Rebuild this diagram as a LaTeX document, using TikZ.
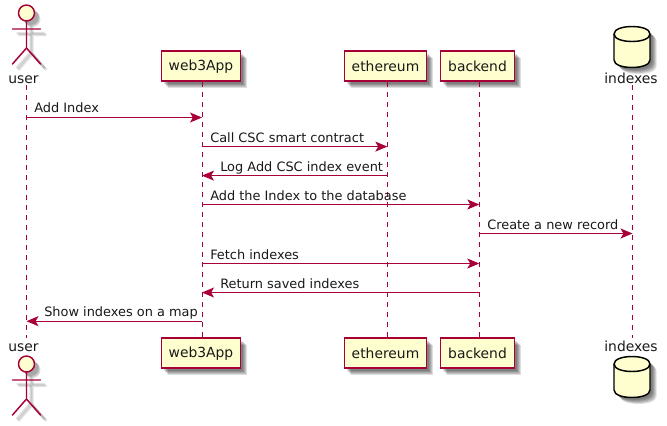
\documentclass[tikz,border=0pt]{standalone}
\usepackage{fontspec}
\setmainfont{DejaVu Sans}
\usetikzlibrary{arrows.meta}
\definecolor{pubord}{HTML}{A80036}
\definecolor{pufill}{HTML}{FEFECE}
\tikzset{
  x=0.75pt,y=-0.75pt,
  txt/.style={font=\fontsize{10.4pt}{12pt}\selectfont,text=black!90},
  part/.style={txt,draw=pubord,fill=pufill,line width=1.1pt,minimum height=22.5pt,inner xsep=0pt,inner ysep=0pt},
  lbl/.style={txt,inner sep=0pt,anchor=base},
  msglbl/.style={font=\fontsize{9.68pt}{12pt}\selectfont,text=black!90,inner sep=0pt,anchor=base west},
  msg/.style={draw=pubord,line width=0.75pt,-{Stealth[length=9pt,width=7.5pt,inset=2.2pt,fill=pubord]}},
  lifeline/.style={draw=pubord,line width=0.75pt,dash pattern=on 3.75pt off 3.75pt},
  shad/.style={draw=none,fill=black,opacity=0.13},
  shadl/.style={draw=black,opacity=0.10,line width=1.8pt},
}
\newcommand{\boxshadow}[4]{% x1 y1 x2 y2
  \foreach \o in {2.5,3.5,4.5,5.5,6.5}{\fill[shad] (#1+\o,#2+\o) rectangle (#3+\o,#4+\o);}}
\newcommand{\actorlines}[3]{% x, y, style
  \draw[#3] (#1,#2+8) -- (#1,#2+35) (#1-14,#2+16) -- (#1+14,#2+16)
     (#1-14,#2+51) -- (#1,#2+35) -- (#1+14,#2+51);}
\newcommand{\actorshape}[2]{% x, head centre y
  \foreach \o in {4,5,6}{
    \fill[shad] (#1+\o,#2+\o) circle (8);
    \actorlines{#1+\o}{#2+\o}{shadl}}
  \actorlines{#1}{#2}{draw=pubord,line width=1.1pt,line cap=round}
  \draw[draw=pubord,fill=pufill,line width=1.1pt] (#1,#2) circle (8);}
\newcommand{\cylpath}[2]{(#1-18,#2+10) .. controls (#1-18,#2) and (#1+18,#2) .. (#1+18,#2+10)
   -- (#1+18,#2+36) .. controls (#1+18,#2+46) and (#1-18,#2+46) .. (#1-18,#2+36) -- cycle}
\newcommand{\cylshape}[2]{% x, top y
  \foreach \o in {2.5,3.5,4.5,5.5,6.5}{\fill[shad] \cylpath{#1+\o}{#2+\o};}
  \draw[black,fill=pufill,line width=1.1pt,line join=round] \cylpath{#1}{#2};
  \draw[black,line width=1.1pt] (#1-18,#2+10) .. controls (#1-18,#2+20) and (#1+18,#2+20) .. (#1+18,#2+10);}
\begin{document}
\begin{tikzpicture}
\useasboundingbox (0,0) rectangle (667,425);
% shadows of boxes
\boxshadow{161.5}{51.5}{240.5}{81}
\boxshadow{344.5}{51.5}{426.5}{81}
\boxshadow{440.5}{51.5}{514.5}{81}
\boxshadow{161.5}{338.5}{240.5}{368}
\boxshadow{344.5}{338.5}{426.5}{368}
\boxshadow{440.5}{338.5}{514.5}{368}
% lifeline anchors
\coordinate (userT) at (26.5,85);
\coordinate (userB) at (26.5,338);
\coordinate (idxT) at (632.5,85);
\coordinate (idxB) at (632.5,338);
% participants
\node[part,minimum width=59.25pt] (webT) at (201,66.2) {web3App};
\node[part,minimum width=61.8pt] (ethT) at (385.5,66.2) {ethereum};
\node[part,minimum width=55.5pt] (bckT) at (477.5,66.2) {backend};
\node[part,minimum width=59.25pt] (webB) at (201,353.2) {web3App};
\node[part,minimum width=61.8pt] (ethB) at (385.5,353.2) {ethereum};
\node[part,minimum width=55.5pt] (bckB) at (477.5,353.2) {backend};
% actors and databases
\actorshape{26.5}{13}
\actorshape{26.5}{364}
\cylshape{632}{24}
\cylshape{632}{354}
\node[lbl] (userLT) at (23.5,83) {user};
\node[lbl] (userLB) at (23.5,351) {user};
\node[lbl] (idxLT) at (631,83) {indexes};
\node[lbl] (idxLB) at (631,351) {indexes};
% lifelines
\draw[lifeline] (userT) -- (userB);
\draw[lifeline] (webT.south -| 202,0) -- (webB.north -| 202,0);
\draw[lifeline] (ethT.south -| 387.3,0) -- (ethB.north -| 387.3,0);
\draw[lifeline] (bckT.south -| 479.3,0) -- (bckB.north -| 479.3,0);
\draw[lifeline] (idxT) -- (idxB);
% messages
\coordinate (w) at (202,0);
\coordinate (e) at (387.3,0);
\coordinate (b) at (479.3,0);
\draw[msg] (userT |- 0,117.5) -- (w |- 0,117.5);
\node[msglbl] (m1) at (34,112.5) {Add Index};
\draw[msg] (w |- 0,146.6) -- (e |- 0,146.6);
\node[msglbl] (m2) at (210,142) {Call CSC smart contract};
\draw[msg] (e |- 0,175.6) -- (w |- 0,175.6);
\node[msglbl] (m3) at (220,171) {Log Add CSC index event};
\draw[msg] (w |- 0,204.5) -- (b |- 0,204.5);
\node[msglbl] (m4) at (210,200) {Add the Index to the database};
\draw[msg] (b |- 0,233.5) -- (idxT |- 0,233.5);
\node[msglbl] (m5) at (487,229) {Create a new record};
\draw[msg] (w |- 0,263.5) -- (b |- 0,263.5);
\node[msglbl] (m6) at (210,259) {Fetch indexes};
\draw[msg] (b |- 0,292.5) -- (w |- 0,292.5);
\node[msglbl] (m7) at (220,288) {Return saved indexes};
\draw[msg] (w |- 0,321.2) -- (userT |- 0,321.2);
\node[msglbl] (m8) at (44,316) {Show indexes on a map};
\end{tikzpicture}
\end{document}
